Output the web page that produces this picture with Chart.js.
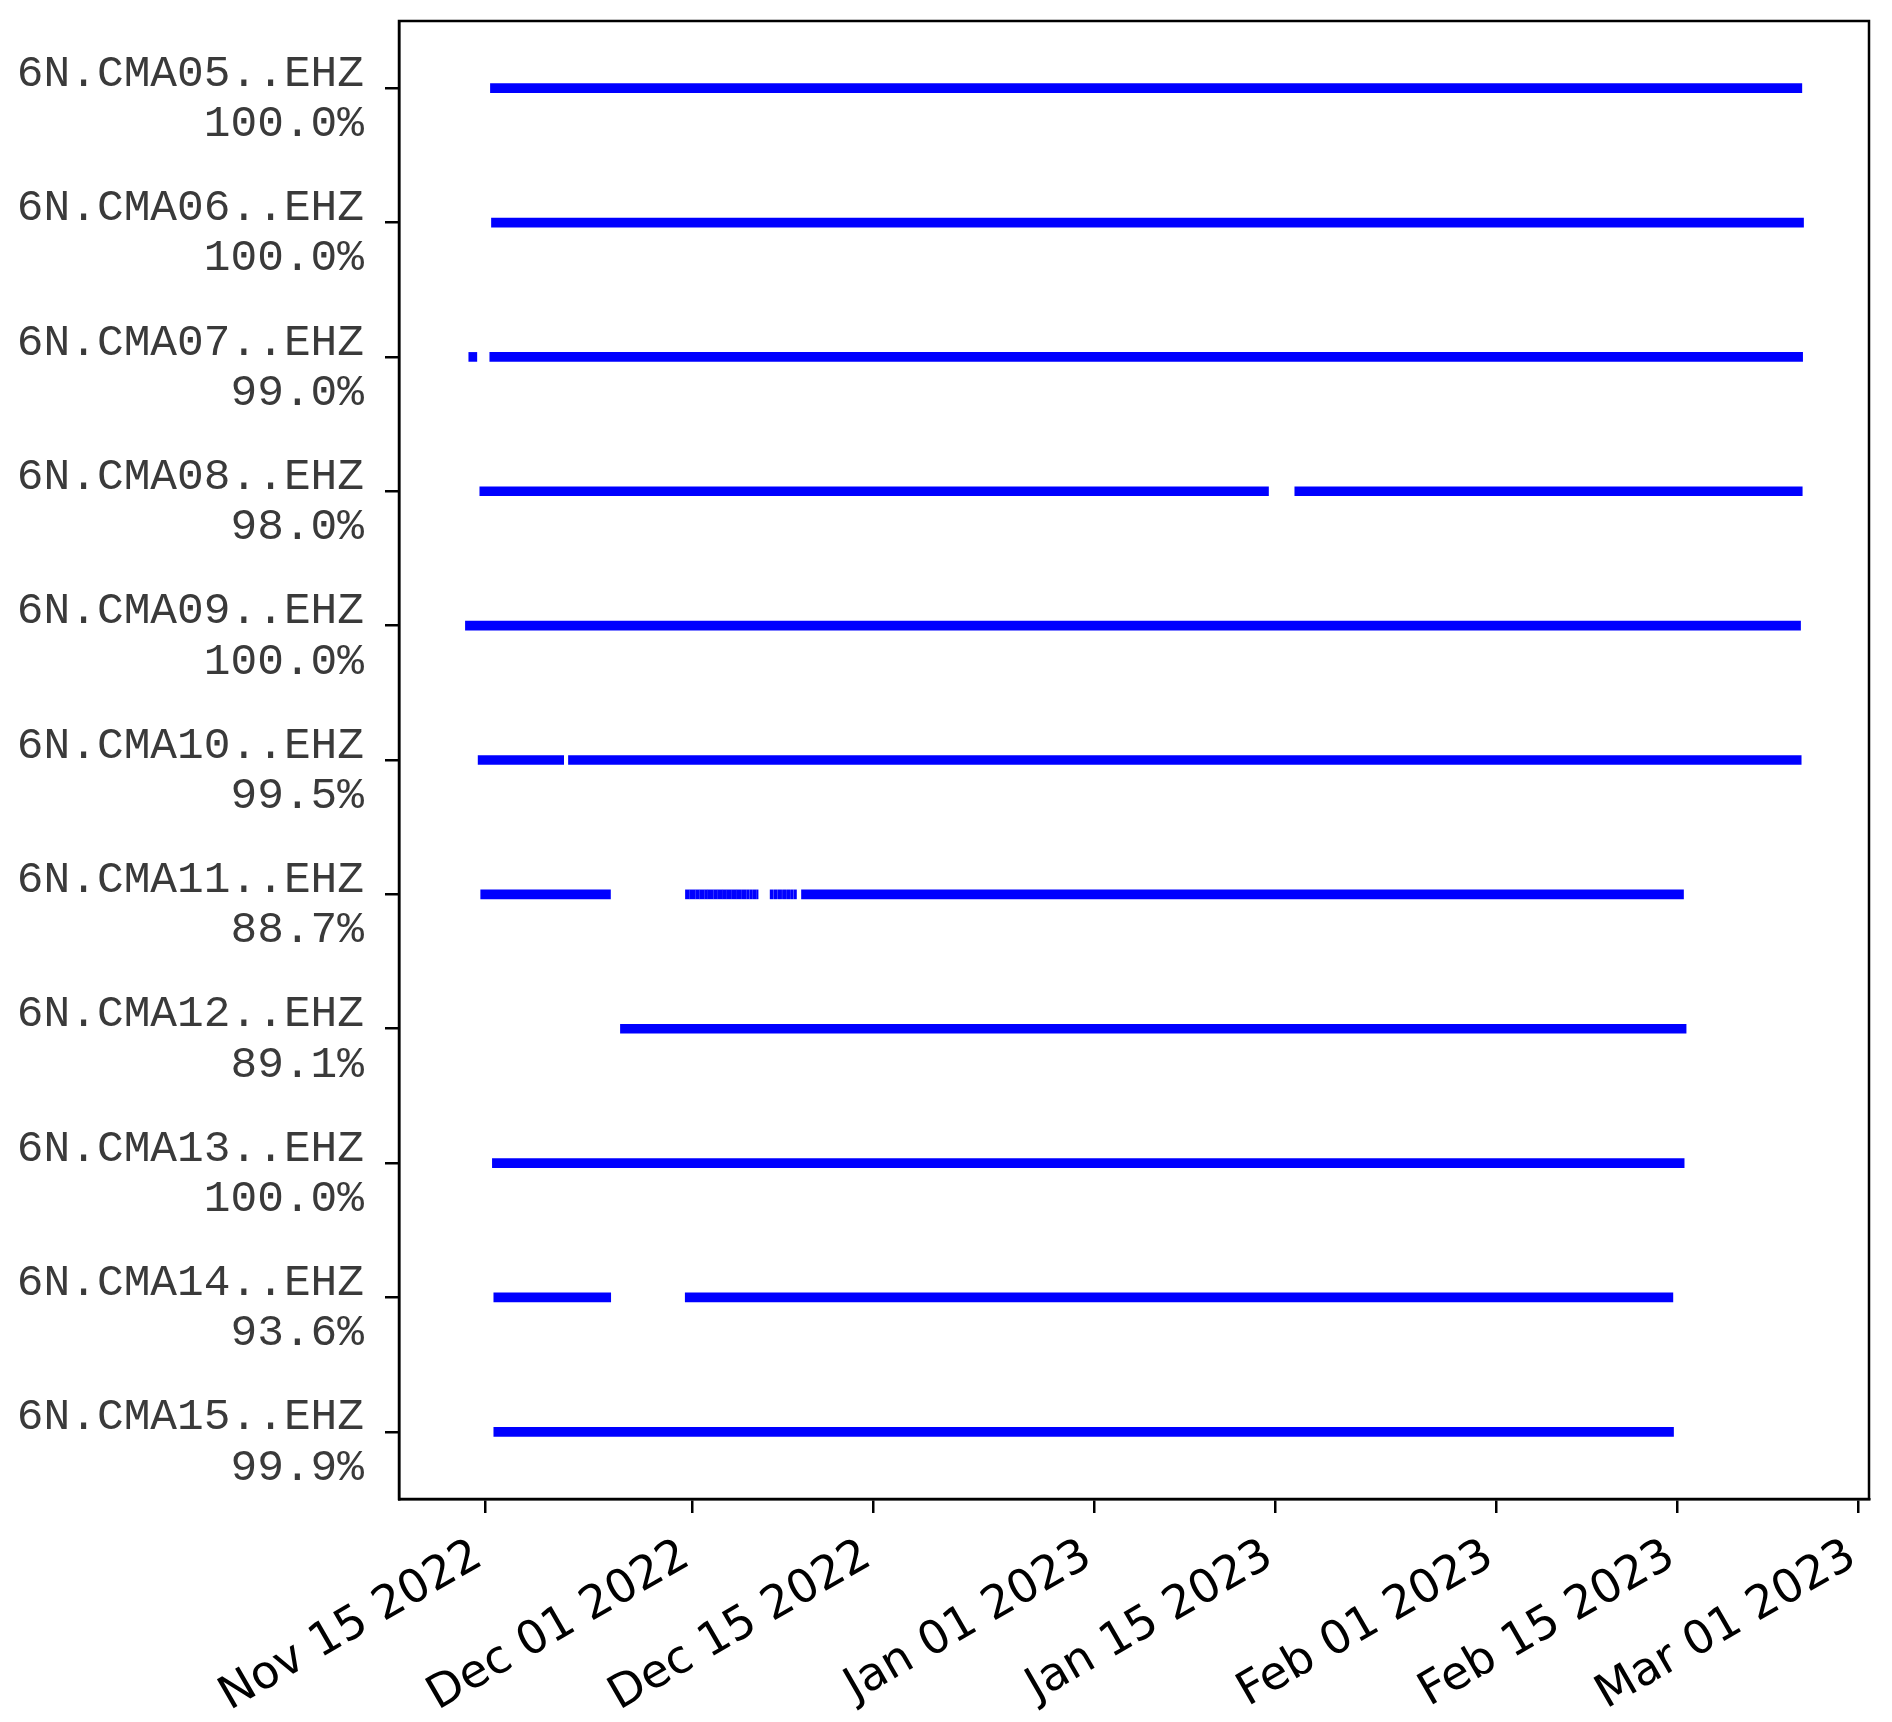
<!DOCTYPE html>
<html>
<head>
<meta charset="utf-8">
<script src="https://cdn.jsdelivr.net/npm/chart.js@4.4.1/dist/chart.umd.min.js"></script>
<style>
html,body{margin:0;padding:0;background:#fff;}
#c{display:block;}
</style>
</head>
<body>
<canvas id="c" width="1892" height="1722"></canvas>
<script>
// ---- data ----
const stations = ['6N.CMA05..EHZ','6N.CMA06..EHZ','6N.CMA07..EHZ','6N.CMA08..EHZ','6N.CMA09..EHZ','6N.CMA10..EHZ','6N.CMA11..EHZ','6N.CMA12..EHZ','6N.CMA13..EHZ','6N.CMA14..EHZ','6N.CMA15..EHZ'];
const availability = ['100.0%','100.0%','99.0%','98.0%','100.0%','99.5%','88.7%','89.1%','100.0%','93.6%','99.9%'];

const cma05 = [['2022-11-15T10:19','2023-02-24T14:38']];
const cma06 = [['2022-11-15T12:14','2023-02-24T17:46']];
const cma07 = [['2022-11-13T18:14','2022-11-14T09:07'],['2022-11-15T09:07','2023-02-24T16:05']];
const cma08 = [['2022-11-14T14:38','2023-01-14T11:02'],['2023-01-16T11:46','2023-02-24T15:22']];
const cma09 = [['2022-11-13T12:00','2023-02-24T12:14']];
const cma10 = [['2022-11-14T11:31','2022-11-21T01:55'],['2022-11-21T10:48','2023-02-24T13:26']];
const cma11 = [
  ['2022-11-14T16:19','2022-11-24T16:34'],
  ['2022-11-30T11:25','2022-11-30T18:30'],['2022-11-30T19:26','2022-12-01T05:30'],
  ['2022-12-01T06:29','2022-12-01T13:00'],['2022-12-01T13:55','2022-12-01T22:20'],
  ['2022-12-01T23:17','2022-12-02T04:20'],['2022-12-02T05:17','2022-12-02T14:50'],
  ['2022-12-02T15:50','2022-12-02T22:45'],['2022-12-02T23:46','2022-12-03T07:00'],
  ['2022-12-03T07:55','2022-12-03T14:20'],['2022-12-03T15:22','2022-12-03T23:40'],
  ['2022-12-04T00:43','2022-12-04T08:50'],['2022-12-04T09:50','2022-12-04T18:00'],
  ['2022-12-04T19:12','2022-12-05T03:20'],['2022-12-05T04:34','2022-12-05T09:20'],
  ['2022-12-05T10:34','2022-12-05T15:30'],['2022-12-05T16:48','2022-12-05T21:50'],
  ['2022-12-05T23:02','2022-12-06T01:55'],
  ['2022-12-07T00:14','2022-12-07T06:10'],['2022-12-07T07:41','2022-12-07T13:40'],
  ['2022-12-07T15:07','2022-12-07T21:30'],['2022-12-07T23:02','2022-12-08T05:00'],
  ['2022-12-08T06:29','2022-12-08T12:30'],['2022-12-08T13:55','2022-12-08T18:50'],
  ['2022-12-08T20:10','2022-12-09T00:58'],
  ['2022-12-09T10:19','2023-02-15T11:31']
];
const cma12 = [['2022-11-25T11:02','2023-02-15T16:19']];
const cma13 = [['2022-11-15T13:55','2023-02-15T12:43']];
const cma14 = [['2022-11-15T16:34','2022-11-24T17:02'],['2022-11-30T11:02','2023-02-14T15:50']];
const cma15 = [['2022-11-15T16:34','2023-02-14T17:02']];

const tickDates  = ['2022-11-15T00:00','2022-12-01T00:00','2022-12-15T00:00','2023-01-01T00:00','2023-01-15T00:00','2023-02-01T00:00','2023-02-15T00:00','2023-03-01T00:00'];
const tickLabels = ['Nov 15 2022','Dec 01 2022','Dec 15 2022','Jan 01 2023','Jan 15 2023','Feb 01 2023','Feb 15 2023','Mar 01 2023'];
const xMin = '2022-11-08T09:00';
const xMax = '2023-03-01T19:00';

// ---- chart ----
const T = s => Date.parse(s + ':00Z');
const rows = [cma05,cma06,cma07,cma08,cma09,cma10,cma11,cma12,cma13,cma14,cma15];

const datasets = rows.map((segs, i) => ({
  label: stations[i],
  data: segs.map(([a, b]) => ({ x: [T(a), T(b)], y: stations[i] })),
  backgroundColor: '#0000ff',
  borderWidth: 0,
  barThickness: 9,
  grouped: false
}));

const framePlugin = {
  id: 'frame',
  afterDraw(chart) {
    const { ctx, chartArea: a } = chart;
    ctx.save();
    ctx.strokeStyle = '#000';
    ctx.lineWidth = 2.5;
    ctx.strokeRect(a.left, a.top, a.right - a.left, a.bottom - a.top);
    ctx.restore();
  }
};

new Chart(document.getElementById('c'), {
  type: 'bar',
  data: { labels: stations, datasets },
  options: {
    indexAxis: 'y',
    responsive: false,
    animation: false,
    layout: { padding: { top: 21, right: 23, left: 0, bottom: 0 } },
    plugins: { legend: { display: false }, tooltip: { enabled: false } },
    scales: {
      x: {
        type: 'linear',
        position: 'bottom',
        min: T(xMin),
        max: T(xMax),
        afterBuildTicks: s => { s.ticks = tickDates.map(d => ({ value: T(d) })); },
        afterFit: s => { s.height = 223; s.paddingLeft = 0; s.paddingRight = 0; },
        ticks: {
          autoSkip: false,
          maxRotation: 30,
          minRotation: 30,
          padding: 16,
          labelOffset: -6,
          color: '#000',
          font: { family: "'DejaVu Sans', sans-serif", size: 46 },
          callback: (v, i) => tickLabels[i]
        },
        grid: { drawOnChartArea: false, drawTicks: true, tickLength: 14, color: '#000', lineWidth: 2.5 },
        border: { display: true, color: '#000', width: 2.5 }
      },
      y: {
        type: 'category',
        offset: true,
        afterFit: s => { s.width = 399; s.paddingTop = 0; s.paddingBottom = 0; },
        ticks: {
          color: '#3a3a3a',
          padding: 21,
          labelOffset: 11,
          font: { family: "'Liberation Mono', monospace", size: 44.5, lineHeight: 1.13 },
          callback: (v, i) => [stations[i], availability[i]]
        },
        grid: { offset: false, drawOnChartArea: false, drawTicks: true, tickLength: 14, color: '#000', lineWidth: 2.5 },
        border: { display: true, color: '#000', width: 2.5 }
      }
    }
  },
  plugins: [framePlugin]
});
</script>
</body>
</html>
